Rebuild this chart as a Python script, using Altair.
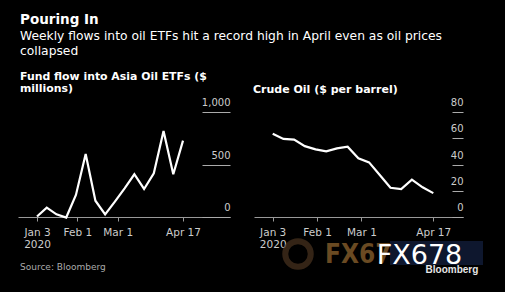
import altair as alt
import pandas as pd

# ---------------- data ----------------
dates = ["2020-01-03", "2020-01-10", "2020-01-17", "2020-01-24", "2020-01-31",
         "2020-02-07", "2020-02-14", "2020-02-21", "2020-02-28", "2020-03-06",
         "2020-03-13", "2020-03-20", "2020-03-27", "2020-04-03", "2020-04-10",
         "2020-04-17"]
fund_flow = [5, 89, 25, -5, 210, 600, 155, 25, 146, 273, 407, 267, 416, 819, 407, 727]
crude_oil = [63.5, 59.5, 59.0, 54.0, 51.5, 50.0, 52.3, 53.5, 44.8, 41.6, 32.0,
             22.3, 21.2, 28.5, 22.6, 18.2]

tick_dates = ["2020-01-03", "2020-02-01", "2020-03-01", "2020-04-17"]
tick_labels = [["Jan 3", "2020"], ["Feb 1"], ["Mar 1"], ["Apr 17"]]
flow_ticks = [0, 500, 1000]
crude_ticks = [0, 20, 40, 60, 80]

title_text = "Pouring In"
subtitle_lines = ["Weekly flows into oil ETFs hit a record high in April even as oil prices",
                  "collapsed"]
left_title = ["Fund flow into Asia Oil ETFs ($", "millions)"]
right_title = "Crude Oil ($ per barrel)"
source_text = "Source: Bloomberg"

FONT = "DejaVu Sans"
ONE = pd.DataFrame({"k": [0]})

flow_df = pd.DataFrame({"date": dates, "value": fund_flow})
oil_df = pd.DataFrame({"date": dates, "value": crude_oil})


def ms(s):
    return int(pd.Timestamp(s, tz="UTC").value // 10**6)


def label_expr():
    parts = []
    for d, lab in zip(tick_dates, tick_labels):
        arr = "[" + ",".join("'" + t + "'" for t in lab) + "]"
        parts.append(f"utcFormat(datum.value,'%Y-%m-%d')=='{d}' ? {arr} : ")
    return "".join(parts) + "''"


def x_enc(d0, d1):
    return alt.X(
        "date:T",
        scale=alt.Scale(type="utc", domain=[ms(d0), ms(d1)]),
        axis=alt.Axis(values=[ms(d) for d in tick_dates], labelExpr=label_expr(),
                      title=None, grid=False, domainColor="#999999", domainWidth=1,
                      tickColor="#999999", tickSize=4, labelColor="#cccccc",
                      labelFont=FONT, labelFontSize=10.5, labelPadding=6,
                      labelLineHeight=12.5, labelFlush=False, labelOverlap=False),
    )


def y_enc(dmax, ticks, tick_len, fmt):
    return alt.Y(
        "value:Q",
        scale=alt.Scale(domain=[0, dmax], nice=False),
        axis=alt.Axis(orient="right", values=ticks, format=fmt, offset=-tick_len,
                      tickSize=tick_len, tickColor="#aaaaaa", domain=False, grid=False,
                      labelAlign="right", labelBaseline="alphabetic", labelPadding=0,
                      labelOffset=-6.5, labelColor="#cccccc", labelFont=FONT,
                      labelFontSize=10, title=None, labelFlush=False),
    )


def txt(s, x, y, size, color="white", weight="normal", font=FONT, align="left"):
    return alt.Chart(ONE).mark_text(
        align=align, baseline="alphabetic", fontSize=size, fontWeight=weight,
        font=font, color=color
    ).encode(x=alt.value(x), y=alt.value(y), text=alt.value(s))


def box(x, x2, y, y2, color="black", opacity=0.0):
    return alt.Chart(ONE).mark_rect(color=color, opacity=opacity).encode(
        x=alt.value(x), x2=alt.value(x2), y=alt.value(y), y2=alt.value(y2))


# ---------------- left panel ----------------
left_line = alt.Chart(flow_df).mark_line(color="white", strokeWidth=2.2).encode(
    x=x_enc("2019-12-20 08:00", "2020-05-20 19:00"),
    y=y_enc(1000, flow_ticks, 28, ",d"),
)

left = alt.layer(
    box(-18, 0, -112, -100),
    left_line,
    txt(title_text, 2, -88, 13.5, weight="bold"),
    txt(subtitle_lines[0], 2, -72, 12.3),
    txt(subtitle_lines[1], 2, -57, 12.3),
    txt(left_title[0], 2, -32, 10.9, weight="bold"),
    txt(left_title[1], 2, -20, 10.9, weight="bold"),
    txt(source_text, 2, 158, 9, color="#aaaaaa"),
).properties(width=212, height=105)

# ---------------- right panel ----------------
right_line = alt.Chart(oil_df).mark_line(color="white", strokeWidth=2.2).encode(
    x=x_enc("2019-12-21 18:30", "2020-05-06 10:00"),
    y=y_enc(80, crude_ticks, 11, "d"),
)

swirl = alt.Chart(ONE).mark_point(shape="circle", filled=False, strokeWidth=6,
                                  color="#4b3420", size=650, opacity=0.7).encode(
    x=alt.value(44), y=alt.value(142))

right = alt.layer(
    box(0, 251, 170, 180),
    right_line,
    txt(right_title, -1, -19.5, 11, weight="bold"),
    box(136, 229, 129, 153, color="#0f1a33", opacity=0.9),
    swirl,
    txt("FX67", 71, 151, 26, color="#6a4a22", weight="bold", font="DejaVu Sans Condensed"),
    txt("FX678", 122.7, 152.3, 27, color="white"),
    txt("Bloomberg", 224.3, 161.3, 10, color="#e6e6e6", weight="bold",
        font="Liberation Sans", align="right"),
).properties(width=209, height=105)

chart = alt.hconcat(left, right, spacing=24, bounds="flush").properties(
    padding=0, background="black"
).configure_view(stroke=None)

chart.save("out.html", embed_options={"renderer": "svg", "actions": False})
